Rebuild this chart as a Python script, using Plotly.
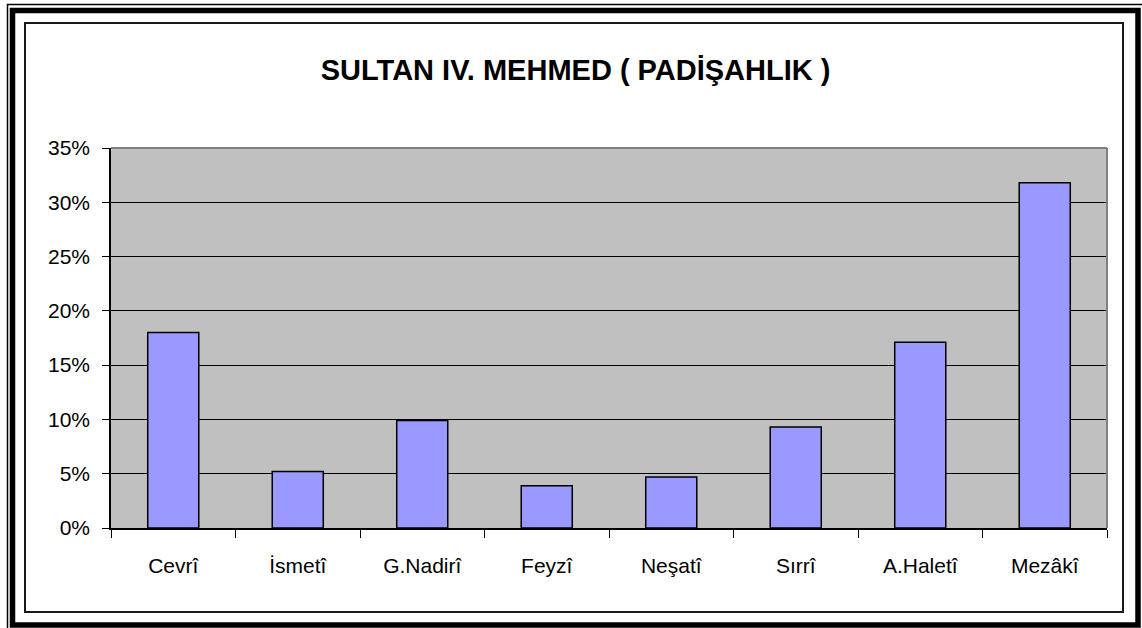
import plotly.graph_objects as go

categories = ["Cevrî", "İsmetî", "G.Nadirî", "Feyzî", "Neşatî", "Sırrî", "A.Haletî", "Mezâkî"]
values = [0.180, 0.052, 0.099, 0.039, 0.047, 0.093, 0.171, 0.318]
y_ticks = [0, 0.05, 0.10, 0.15, 0.20, 0.25, 0.30, 0.35]
title_text = "SULTAN IV. MEHMED ( PADİŞAHLIK )"

W, H = 1142, 628
L, R, T, B = 111, 1107, 148, 528


def px(x):
    return (x - L) / (R - L)


def py(y):
    return (B - y) / (B - T)


fig = go.Figure()
fig.add_trace(go.Bar(
    x=categories, y=values,
    marker=dict(color="#9999FF", line=dict(color="black", width=1.5)),
    hoverinfo="x+y",
))

shapes = [
    # outer thin frame line
    dict(type="rect", xref="paper", yref="paper", x0=px(7.5), x1=px(1160), y0=py(4.5), y1=py(650),
         line=dict(color="black", width=1.5), layer="above"),
    # thick frame
    dict(type="rect", xref="paper", yref="paper", x0=px(12.5), x1=px(1138), y0=py(10.5), y1=py(625),
         line=dict(color="black", width=5.5), layer="above"),
    # inner chart-area frame
    dict(type="rect", xref="paper", yref="paper", x0=px(25), x1=px(1123), y0=py(23), y1=py(612),
         line=dict(color="#1a1a1a", width=2), layer="above"),
    # plot area top and right borders (gray)
    dict(type="line", xref="paper", yref="paper", x0=0, x1=1, y0=1, y1=1,
         line=dict(color="#808080", width=2), layer="above"),
    dict(type="line", xref="paper", yref="paper", x0=1, x1=1, y0=0, y1=1,
         line=dict(color="#808080", width=2), layer="above"),
]

fig.update_layout(
    width=W, height=H,
    margin=dict(l=L, r=W - R, t=T, b=H - B),
    paper_bgcolor="white",
    plot_bgcolor="#C0C0C0",
    bargap=0.59,
    showlegend=False,
    font=dict(family="Liberation Sans, Arial, sans-serif", color="black", size=21),
    title=dict(text="<b>" + title_text + "</b>", x=0.504, xanchor="center", xref="container",
               y=1 - 70 / H, yanchor="middle", yref="container",
               font=dict(size=29, family="Liberation Sans, Arial, sans-serif", color="black")),
    shapes=shapes,
)

fig.update_xaxes(
    type="category", showline=True, linecolor="black", linewidth=1.5,
    ticks="outside", tickson="boundaries", ticklen=8, tickcolor="black", tickwidth=1.2,
    showgrid=False, tickfont=dict(size=21), ticklabelstandoff=18,
)
fig.update_yaxes(
    range=[0, 0.35], tickvals=y_ticks, tickformat=".0%",
    showline=True, linecolor="black", linewidth=1.5,
    ticks="outside", ticklen=7, tickcolor="black", tickwidth=1.2,
    showgrid=True, gridcolor="black", gridwidth=1, zeroline=False,
    tickfont=dict(size=21), ticklabelstandoff=8,
)

fig.write_html("out.html", config={"displayModeBar": False},
               post_script="document.body.style.margin='0';")
